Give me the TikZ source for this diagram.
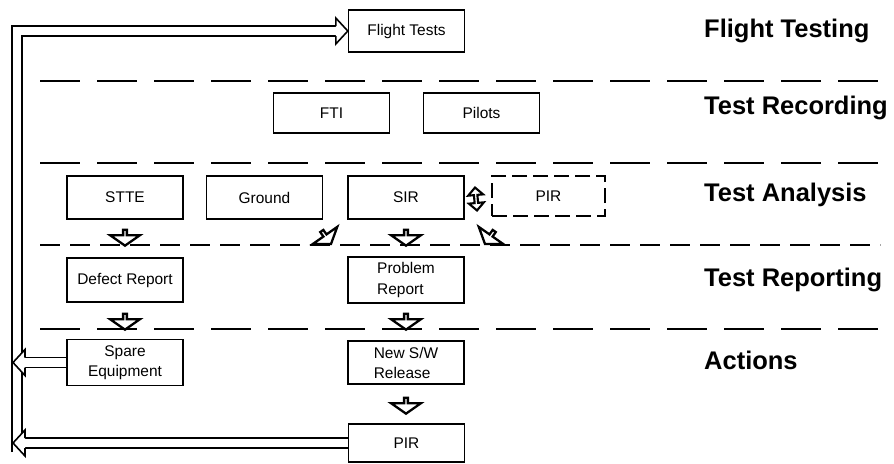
\documentclass[tikz,border=0pt]{standalone}
\usepackage{fontspec}
\setmainfont{Liberation Sans}
\usetikzlibrary{shapes.arrows}

\begin{document}
\begin{tikzpicture}[
		box/.style={draw, line width=0.8pt, minimum width=2.32cm, minimum height=0.84cm, align=center, font=\fontsize{8.8}{11.4}\selectfont},
		dbox/.style={box, dash pattern=on 0.3cm off 0.12cm},
		layerlabel/.style={anchor=west, font=\bfseries\fontsize{14.5}{17}\selectfont},
		separator/.style={line width=0.9pt, dash pattern=on 0.8cm off 0.34cm},
		blockarrow/.style={single arrow, draw, line width=1.3pt, fill=white, inner sep=0pt, minimum width=0.6cm, minimum height=0.32cm, single arrow head extend=0.16cm, single arrow tip angle=110},
		twoway/.style={double arrow, draw, line width=1.2pt, fill=white, inner sep=0pt, minimum width=0.3cm, minimum height=0.46cm, double arrow head extend=0.07cm},
		feedback/.style={double, line width=0.9pt, double distance=0.17cm},
		fbhead/.style={draw, line width=0.9pt, fill=white, line join=miter}
	]
	\useasboundingbox (0,0) rectangle (17.88,-9.26);

	% layers
	\foreach \y in {-1.62,-3.26,-6.58}
		\draw[separator] (0.8,\y) -- (17.6,\y);
	\draw[separator, dash pattern=on 0.4cm off 0.2cm] (0.8,-4.9) -- (17.6,-4.9);

	\node[layerlabel] (lflight) at (13.96,-0.62) {Flight Testing};
	\node[layerlabel] (lrec) at (13.96,-2.16) {Test Recording};
	\node[layerlabel] (lana) at (13.96,-3.9) {Test Analysis};
	\node[layerlabel] (lrep) at (13.96,-5.6) {Test Reporting};
	\node[layerlabel] (lact) at (13.96,-7.2) {Actions};

	% boxes
	\node[box] (flight) at (8.13,-0.62) {Flight Tests};
	\node[box, minimum height=0.8cm] (fti) at (6.63,-2.26) {FTI};
	\node[box, minimum height=0.8cm] (pilots) at (9.63,-2.26) {Pilots};
	\node[box, minimum height=0.86cm] (stte) at (2.5,-3.95) {STTE};
	\node[box, minimum height=0.86cm] (ground) at (5.29,-3.95) {Ground};
	\node[box, minimum height=0.86cm] (sir) at (8.12,-3.95) {SIR};
	\node[dbox, minimum width=2.26cm, minimum height=0.8cm] (pir) at (10.97,-3.92) {PIR};
	\node[box, minimum height=0.88cm] (defect) at (2.5,-5.6) {Defect Report};
	\node[box, minimum height=0.88cm, align=left] (problem) at (8.12,-5.6) {Problem\\Report};
	\node[box, minimum height=0.82cm] (spare) at (2.5,-7.25) {Spare\\Equipment};
	\node[box, minimum height=0.82cm, align=left] (newsw) at (8.12,-7.25) {New S/W\\Release};
	\node[box, minimum height=0.76cm] (pirout) at (8.13,-8.86) {PIR};

	% flow arrows
	\node[blockarrow, rotate=-90] (a1) at (2.5,-4.74) {};
	\node[blockarrow, rotate=-55] (a2) at (6.52,-4.74) {};
	\node[blockarrow, rotate=-90] (a3) at (8.12,-4.74) {};
	\node[blockarrow, rotate=-125] (a4) at (9.8,-4.74) {};
	\node[blockarrow, rotate=-90] (a5) at (2.5,-6.42) {};
	\node[blockarrow, rotate=-90] (a6) at (8.12,-6.42) {};
	\node[blockarrow, rotate=-90] (a7) at (8.12,-8.1) {};
	\node[twoway, rotate=95] (a8) at (9.52,-3.98) {};

	% feedback loop
	\coordinate (bend) at (0.34,-9.04);
	\coordinate (edge) at (0.26,-9.04);
	\coordinate (spin) at (spare.west -| edge);
	\coordinate (prin) at (pirout.west -| edge);
	\draw[feedback] (bend) |- ([xshift=-0.24cm]flight.west);
	\draw[feedback] (spare.west) -- ([xshift=0.24cm]spin);
	\draw[feedback] (pirout.west) -- ([xshift=0.24cm]prin);
	\draw[fbhead] ([xshift=-0.24cm,yshift=0.1cm]flight.west) -- ++(0,0.16) -- (flight.west) -- ++(-0.24,-0.26) -- ++(0,0.16);
	\draw[fbhead] ([xshift=0.24cm,yshift=0.1cm]spin) -- ++(0,0.16) -- (spin) -- ++(0.24,-0.26) -- ++(0,0.16);
	\draw[fbhead] ([xshift=0.24cm,yshift=0.1cm]prin) -- ++(0,0.16) -- (prin) -- ++(0.24,-0.26) -- ++(0,0.16);
\end{tikzpicture}
\end{document}
